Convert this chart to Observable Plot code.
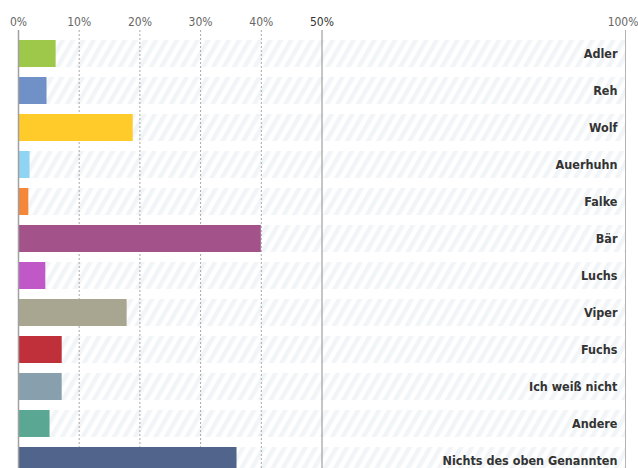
<!DOCTYPE html>
<html>
<head>
<meta charset="utf-8">
<script src="https://cdn.jsdelivr.net/npm/d3@7"></script>
<script src="https://cdn.jsdelivr.net/npm/@observablehq/plot@0.6"></script>
<style>
  html, body { margin: 0; padding: 0; background: #fff; overflow: hidden; }
  svg { overflow: visible; }
</style>
</head>
<body>
<div id="chart"></div>
<script>
const categories = ["Adler", "Reh", "Wolf", "Auerhuhn", "Falke", "Bär", "Luchs", "Viper", "Fuchs", "Ich weiß nicht", "Andere", "Nichts des oben Genannten"];
const values = [6.2, 4.7, 18.9, 1.9, 1.7, 40.0, 4.5, 17.9, 7.2, 7.2, 5.2, 36.0];
const colors = ["#9dc84a", "#7090c8", "#ffcb2a", "#8fd5f3", "#f4873a", "#a4528a", "#c058c8", "#a8a690", "#c0303a", "#88a0ae", "#5aa894", "#50648c"];
const tickValues = [0, 10, 20, 30, 40, 50, 100];
const tickLabels = ["0%", "10%", "20%", "30%", "40%", "50%", "100%"];

const rows = categories.map((c, i) => ({category: c, value: values[i], color: colors[i]}));
const ticks = tickValues.map((v, i) => ({v, label: tickLabels[i]}));
const font = "'DejaVu Sans Condensed', 'Noto Sans', sans-serif";

const chart = Plot.plot({
  width: 638,
  height: 468,
  marginTop: 30,
  marginBottom: 0,
  marginLeft: 18,
  marginRight: 13,
  style: {fontFamily: font, background: "#fff"},
  x: {domain: [0, 100], axis: null},
  y: {type: "band", domain: categories, range: [35, 479], paddingInner: 0.27, paddingOuter: 0.135, axis: null},
  marks: [
    Plot.barX(rows, {y: "category", x1: 0, x2: 100, fill: "url(#hatch)"}),
    Plot.ruleX(ticks.filter(d => d.v > 0 && d.v < 50), {x: "v", stroke: "#a8a8a8", strokeWidth: 1, strokeDasharray: "2,2"}),
    Plot.barX(rows, {y: "category", x1: 0, x2: "value", fill: "color"}),
    Plot.ruleX([0], {stroke: "#a0a0a0", strokeWidth: 1.5}),
    Plot.ruleX([50], {stroke: "#8c8c8c", strokeWidth: 1}),
    Plot.ruleX([100], {stroke: "#b4b4b4", strokeWidth: 1}),
    Plot.text(ticks.filter(d => d.v < 100), {x: "v", text: "label", frameAnchor: "top", dy: -13, fontSize: 12,
      fill: d => d.v === 50 ? "#333" : "#666", fontWeight: d => d.v === 50 ? "bold" : "normal"}),
    Plot.text(ticks.filter(d => d.v === 100), {x: "v", text: "label", frameAnchor: "top", dy: -13, dx: 13,
      textAnchor: "end", fontSize: 12, fill: "#666"}),
    Plot.text(rows, {y: "category", x: 100, text: "category", textAnchor: "end", dx: -8,
      fontSize: 12.5, fontWeight: "bold", fill: "#333", letterSpacing: "-0.4px"})
  ]
});

const defs = d3.select(chart).insert("defs", ":first-child");
const pat = defs.append("pattern")
  .attr("id", "hatch")
  .attr("patternUnits", "userSpaceOnUse")
  .attr("width", 9)
  .attr("height", 9)
  .attr("patternTransform", "rotate(30)");
pat.append("rect").attr("width", 9).attr("height", 9).attr("fill", "#ffffff");
pat.append("rect").attr("width", 4.5).attr("height", 9).attr("fill", "#f2f5f7");

document.getElementById("chart").appendChild(chart);
</script>
</body>
</html>
